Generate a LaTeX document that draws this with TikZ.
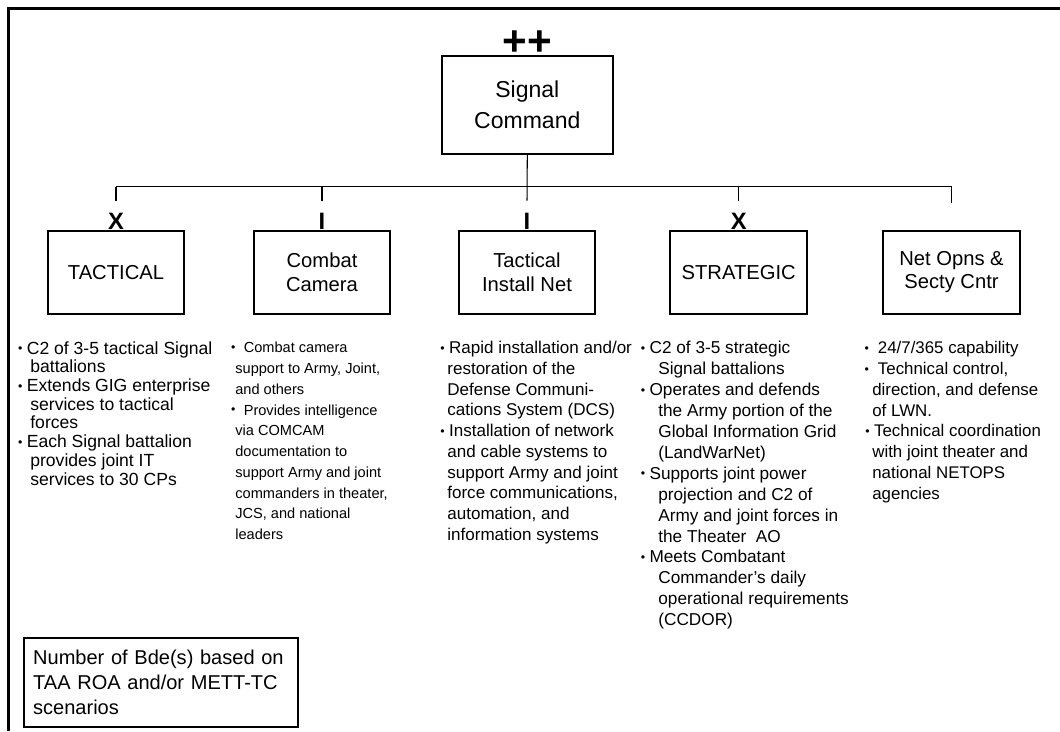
\documentclass[tikz,border=0pt]{standalone}
\usepackage{fontspec}
\setmainfont{Liberation Sans}
\usetikzlibrary{positioning}
\newcommand{\bul}[1][0pt]{\hspace*{#1}\llap{\raisebox{0.8pt}{\fontsize{7}{7}\selectfont\textbullet}\hspace{2.5pt}}}

\begin{document}
\begin{tikzpicture}[x=0.02cm, y=-0.02cm]
  % Styles
  \tikzset{
    unitbox/.style={draw, line width=1.1pt, minimum width=2.734cm, minimum height=1.666cm, inner sep=0pt, align=center, font=\fontsize{11.5}{13.2}\selectfont},
    echelon/.style={anchor=base, inner sep=0pt, font=\fontsize{13.5}{13.5}\selectfont\bfseries},
    duties/.style 2 args={anchor=north west, inner sep=0pt, align=left, font=\fontsize{#1}{#2}\selectfont},
    link/.style={line width=0.6pt},
  }
  \useasboundingbox (0,0) rectangle (1060,731);
  % Frame
  \draw[line width=1.5pt] (8.3,731) -- (8.3,8.3) -- (1060,8.3);
  % Nodes
  \node (signal) [draw, line width=1.1pt, minimum width=3.42cm, minimum height=1.96cm, align=center, font=\fontsize{13.1}{17.6}\selectfont] at (527.3,105) {Signal\\Command};
  \node (echsignal) [echelon, font=\fontsize{24}{24}\selectfont\bfseries] at (signal.north) {++};
  \node (tactical) [unitbox] at (116,272.2) {TACTICAL};
  \node (combatcam) [unitbox] at (322,272.2) {Combat\\Camera};
  \node (tacinstall) [unitbox] at (527,272.2) {Tactical\\Install Net};
  \node (strategic) [unitbox] at (738.7,272.2) {STRATEGIC};
  \node (netops) [unitbox] at (951.5,272.2) {Net Opns \&\\Secty Cntr};
  \node (echtac) [echelon] at (tactical.north) {X};
  \node (echcam) [echelon] at (combatcam.north) {I};
  \node (echtin) [echelon] at (tacinstall.north) {I};
  \node (echstr) [echelon] at (strategic.north) {X};
  % Lines
  \coordinate (bar) at (0,186.7);
  \draw[link] (signal.south) -- ([yshift=0.58cm]tacinstall.north);
  \draw[link] (tactical.north |- bar) -- (netops.north |- bar);
  \foreach \unit in {tactical, combatcam, strategic}
    \draw[link] (\unit.north |- bar) -- ([yshift=0.58cm]\unit.north);
  \draw[link] (netops.north |- bar) -- ([yshift=0.53cm]netops.north);
  % Duties
  \node (tacduties) [duties={10}{10.65}] at (30,341) {\bul[-2pt]C2 of 3-5 tactical Signal\\battalions\\\bul[-2pt]Extends GIG enterprise\\services to tactical\\forces\\\bul[-2pt]Each Signal battalion\\provides joint IT\\services to 30 CPs};
  \node (camduties) [duties={8.3}{11.8}] at (235,342) {\bul[2.5pt]\ Combat camera\\support to Army, Joint,\\and others\\\bul[2.5pt]\ Provides intelligence\\via COMCAM\\documentation to\\support Army and joint\\commanders in theater,\\JCS, and national\\leaders};
  \node (tinduties) [duties={9.7}{11.8}] at (447,341) {\bul[1pt]Rapid installation and/or\\restoration of the\\Defense Communi-\\cations System (DCS)\\\bul[1pt]Installation of network\\and cable systems to\\support Army and joint\\force communications,\\automation, and\\information systems};
  \node (strduties) [duties={9.8}{11.9}] at (658,341) {\bul[-5pt]C2 of 3-5 strategic\\Signal battalions\\\bul[-5pt]Operates and defends\\the Army portion of the\\Global Information Grid\\(LandWarNet)\\\bul[-5pt]Supports joint power\\projection and C2 of\\Army and joint forces in\\the Theater\ \ AO\\\bul[-5pt]Meets Combatant\\Commander’s daily\\operational requirements\\(CCDOR)};
  \node (nosduties) [duties={9.6}{11.85}] at (872,341) {\bul[0.5pt]\ 24/7/365 capability\\\bul[0.5pt]\ Technical control,\\direction, and defense\\of LWN.\\\bul[1pt]Technical coordination\\with joint theater and\\national NETOPS\\agencies};
  % Legend
  \node (legend) [draw, line width=1.1pt, anchor=north west, minimum width=5.48cm, minimum height=1.78cm, text width=5.1cm, inner xsep=0.19cm, inner ysep=0pt, align=left, font=\fontsize{11.4}{14.2}\selectfont] at (22.7,636.7) {Number of Bde(s) based on\\TAA ROA and/or METT-TC\\scenarios};
\end{tikzpicture}
\end{document}
